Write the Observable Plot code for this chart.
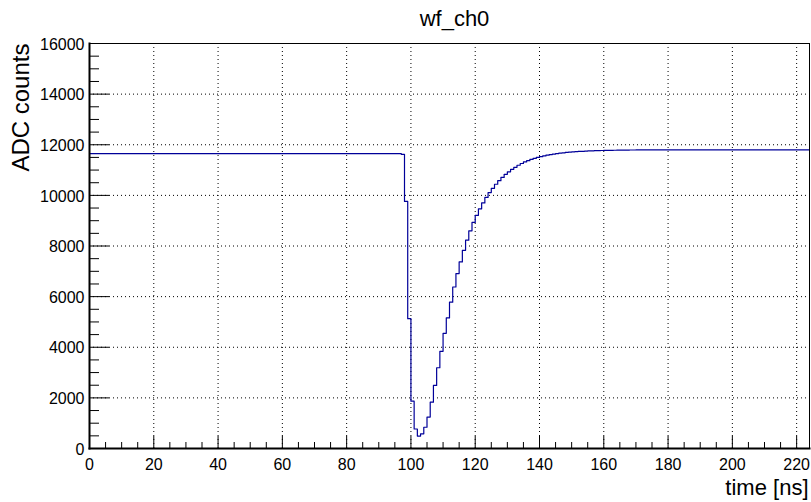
<!DOCTYPE html>
<html>
<head>
<meta charset="utf-8">
<script src="https://cdn.jsdelivr.net/npm/d3@7"></script>
<script src="https://cdn.jsdelivr.net/npm/@observablehq/plot@0.6"></script>
<style>
  html, body { margin: 0; padding: 0; background: #fff; }
  #chart svg { display: block; }
</style>
</head>
<body>
<div id="chart"></div>
<script>
// ---- data ----
const chartTitle = "wf_ch0";
const xLabel = "time [ns]";
const yLabel = "ADC counts";
const binWidth = 1;           // ns per bin
const xMax = 224;             // histogram upper edge
const yMax = 16000;

// ADC value of each 1 ns bin, bins 0..223
const adc = [
  11650,11650,11650,11650,11650,11650,11650,11650,11650,11650,11650,11650,11650,11650,11650,11650,
  11650,11650,11650,11650,11650,11650,11650,11650,11650,11650,11650,11650,11650,11650,11650,11650,
  11650,11650,11650,11650,11650,11650,11650,11650,11650,11650,11650,11650,11650,11650,11650,11650,
  11650,11650,11650,11650,11650,11650,11650,11650,11650,11650,11650,11650,11650,11650,11650,11650,
  11650,11650,11650,11650,11650,11650,11650,11650,11650,11650,11650,11650,11650,11650,11650,11650,
  11650,11650,11650,11650,11650,11650,11650,11650,11650,11650,11650,11650,11650,11650,11650,11650,
  11650,11620, 9760, 5130, 1870,  770,  490,  580,  840, 1240, 1830, 2490, 3190, 3840, 4550, 5160,
   5780, 6380, 6910, 7370, 7830, 8230, 8600, 8930, 9210, 9470, 9700, 9920,10110,10280,10440,10580,
  10710,10830,10930,11030,11110,11190,11260,11320,11370,11420,11460,11500,11530,11560,11590,11610,
  11630,11650,11670,11680,11700,11710,11720,11730,11735,11740,11750,11755,11760,11765,11770,11772,
  11775,11778,11780,11783,11785,11787,11789,11790,11792,11793,11794,11795,11796,11797,11797,11798,
  11798,11798,11799,11799,11799,11800,11800,11800,11800,11800,11800,11800,11800,11800,11800,11800,
  11800,11800,11800,11800,11800,11800,11800,11800,11800,11800,11800,11800,11800,11800,11800,11800,
  11800,11800,11800,11800,11800,11800,11800,11800,11800,11800,11800,11800,11800,11800,11800,11800
];

const xMajorTicks = [0, 20, 40, 60, 80, 100, 120, 140, 160, 180, 200, 220];
const xMinorTicks = [5,10,15,25,30,35,45,50,55,65,70,75,85,90,95,105,110,115,125,130,135,145,150,155,165,170,175,185,190,195,205,210,215];
const yMajorTicks = [0, 2000, 4000, 6000, 8000, 10000, 12000, 14000, 16000];
const yMinorTicks = [500,1000,1500,2500,3000,3500,4500,5000,5500,6500,7000,7500,8500,9000,9500,10500,11000,11500,12500,13000,13500,14500,15000,15500];

// step-line table built from the arrays: bin low edges + closing upper edge
const steps = adc.map((v, i) => ({t: i * binWidth, v}));
steps.push({t: adc.length * binWidth, v: adc[adc.length - 1]});

const plot = Plot.plot({
  width: 811,
  height: 502,
  marginLeft: 89,
  marginRight: 2,
  marginTop: 43,
  marginBottom: 54,
  style: {fontFamily: "'Liberation Sans', Arial, Helvetica, sans-serif", fontSize: "16px", color: "black", background: "white"},
  x: {domain: [0, xMax]},
  y: {domain: [0, yMax]},
  marks: [
    Plot.gridX(xMajorTicks, {stroke: "black", strokeOpacity: 1, strokeDasharray: "1,3"}),
    Plot.gridY(yMajorTicks, {stroke: "black", strokeOpacity: 1, strokeDasharray: "1,3"}),
    Plot.lineY(steps, {x: "t", y: "v", curve: "step-after", stroke: "#000099", strokeWidth: 1.2}),
    Plot.frame({stroke: "black", strokeWidth: 1}),
    Plot.frame({anchor: "left", stroke: "black", strokeWidth: 2}),
    Plot.frame({anchor: "bottom", stroke: "black", strokeWidth: 2}),
    // inward ticks
    Plot.axisX({ticks: xMajorTicks, tickSize: -12, text: null, label: null}),
    Plot.axisX({ticks: xMinorTicks, tickSize: -6, text: null, label: null}),
    Plot.axisY({ticks: yMajorTicks, tickSize: -20, text: null, label: null}),
    Plot.axisY({ticks: yMinorTicks, tickSize: -10, text: null, label: null}),
    // tick labels
    Plot.axisX({ticks: xMajorTicks, tickSize: 0, tickPadding: 10, label: null, tickFormat: d => String(d)}),
    Plot.axisY({ticks: yMajorTicks, tickSize: 0, tickPadding: 5, dy: 1, label: null, tickFormat: d => String(d)}),
    // titles
    Plot.text([chartTitle], {frameAnchor: "top", dx: 5, dy: -18, lineAnchor: "bottom", fontSize: 22}),
    Plot.text([yLabel], {frameAnchor: "top-left", rotate: -90, textAnchor: "end", lineAnchor: "bottom", dx: -61, fontSize: 24}),
    Plot.text([xLabel], {frameAnchor: "bottom-right", textAnchor: "end", lineAnchor: "bottom", dx: -1, dy: 46, fontSize: 22})
  ]
});
document.getElementById("chart").appendChild(plot);
</script>
</body>
</html>
